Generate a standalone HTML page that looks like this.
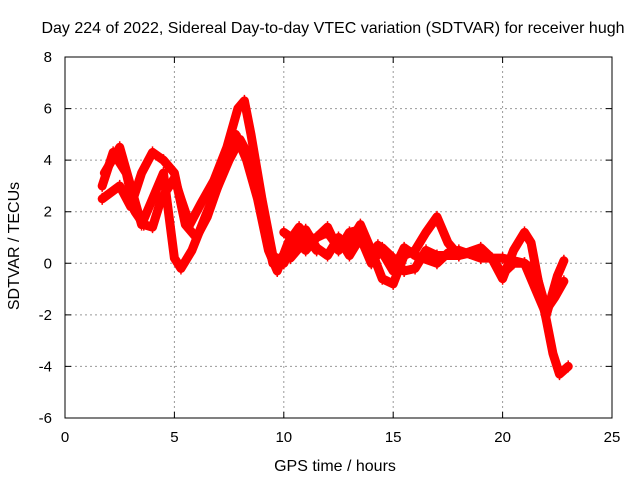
<!DOCTYPE html>
<html><head><meta charset="utf-8"><style>
body{margin:0;background:#fff}
svg{display:block;font-family:"Liberation Sans",sans-serif}
</style></head><body>
<svg id="chart" width="640" height="480" viewBox="0 0 640 480">
<rect width="640" height="480" fill="#fff"/>
<text x="333" y="33" font-size="16" text-anchor="middle">Day 224 of 2022, Sidereal Day-to-day VTEC variation (SDTVAR) for receiver hugh</text>
<g id="grid"></g>
<g id="series"></g>
<rect x="65" y="57" width="547" height="361" fill="none" stroke="#000"/>
<g id="axes"></g>
<text x="335" y="471" font-size="16" text-anchor="middle">GPS time / hours</text>
<text x="19" y="246" font-size="16" text-anchor="middle" transform="rotate(-90 19 246)">SDTVAR / TECUs</text>
</svg>
<script>
const xTicks=[0,5,10,15,20,25];
const yTicks=[-6,-4,-2,0,2,4,6,8];
const traceAHours=[1.7,2.2,2.8,3.2,3.6,4.0,4.4,5.0,5.3,5.7,6.2,6.8,7.4,7.9,8.2,8.5,9.0,9.5,10.0,10.5,11.0];
const traceAValues=[3,4.3,3.5,2,1.5,1.4,2.5,3.3,2.5,1.5,2.3,3.2,4.5,6,6.3,5,2.5,0.3,0,1,1.2];
const traceBHours=[1.7,2.5,3.0,3.5,4.0,4.5,5.0,5.5,6.0,6.5,7.2,7.8,8.3,8.8,9.3,9.7,10.2,10.7,11.5];
const traceBValues=[2.5,3,2.2,3.5,4.3,4,3.5,1.5,1,1.8,3.5,5,4,2.5,0.5,-0.3,0.8,1.4,0.5];
const traceCHours=[1.8,2.5,3.0,3.5,4.0,4.5,5.0,5.3,5.8,6.5,7.5,8.0,8.5,9.0,9.5,10.0];
const traceCValues=[3.5,4.5,3,1.5,2.5,3.5,0.2,-0.2,0.5,2,4,4.8,4,2,0,0.3];
const traceDHours=[10,10.5,11,11.5,12,12.5,13,13.5,14,14.5,15,15.5,16,16.5,17,17.5,18,18.5,19,19.5,20,20.5,21,21.3,21.7,22.0,22.3,22.6,23];
const traceDValues=[1.2,0.9,0.5,1.0,1.2,0.6,0.8,1.5,0.5,-0.6,-0.8,0.3,0.5,1.2,1.8,0.8,0.3,0.4,0.5,0.2,-0.6,0.5,1.2,0.8,-1,-2.2,-3.5,-4.3,-4];
const traceEHours=[10,10.5,11,11.5,12,12.5,13,13.5,14,14.5,15,15.5,16,16.5,17,18,19,19.5,20,20.5,21,21.5,22.0,22.4,22.8];
const traceEValues=[0,0.8,1.3,0.6,0.3,1,0.3,1,0,0.6,0.2,-0.3,-0.2,0.5,0.3,0.3,0.6,0.2,-0.4,0,0,-0.3,-1.8,-1.3,-0.7];
const traceFHours=[10.3,11,11.5,12,12.5,13,13.5,14,14.3,15,15.5,16,17,17.5,18,19,20,21,21.5,22,22.5,22.8];
const traceFValues=[0.2,0.9,1,1.4,0.5,1.2,1.3,0.3,0.7,-0.3,0.6,0.3,0,0.4,0.5,0.2,0.2,0,-1,-2,-0.5,0.1];
const traces=[[traceAHours,traceAValues],[traceBHours,traceBValues],[traceCHours,traceCValues],[traceDHours,traceDValues],[traceEHours,traceEValues],[traceFHours,traceFValues]];

const X0=65,X1=612,Y0=418,Y1=57;
const xs=h=>X0+(h-0)/(25-0)*(X1-X0);
const ys=v=>Y0-(v+6)/(8+6)*(Y0-Y1);
const NS='http://www.w3.org/2000/svg';
const grid=document.getElementById('grid'),axes=document.getElementById('axes'),ser=document.getElementById('series');
function mk(tag,attrs,parent){const e=document.createElementNS(NS,tag);for(const k in attrs)e.setAttribute(k,attrs[k]);parent.appendChild(e);return e;}
xTicks.forEach(t=>{const x=xs(t);
  if(t>0&&t<25){const g=mk('line',{x1:x,x2:x,y1:Y0,y2:Y1,stroke:'#999','stroke-dasharray':'2,3'},grid);
  
  }
  const tk=mk('path',{d:`M${x},${Y0}v-6M${x},${Y1}v6`,stroke:'#000'},axes);
  
  
  const l=mk('text',{x:x,y:Y0+24,'font-size':15,'text-anchor':'middle'},axes);l.textContent=t;
  
  
});
yTicks.forEach(t=>{const y=ys(t);
  if(t>-6&&t<8){const g=mk('line',{x1:X0,x2:X1,y1:y,y2:y,stroke:'#999','stroke-dasharray':'2,3'},grid);
  
  }
  const tk=mk('path',{d:`M${X0},${y}h6M${X1},${y}h-6`,stroke:'#000'},axes);
  
  
  const l=mk('text',{x:X0-13,y:y+5,'font-size':15,'text-anchor':'end'},axes);l.textContent=t;
  
  
});
traces.forEach(([hs,vs],i)=>{
  const pts=hs.map((h,j)=>xs(h)+','+ys(vs[j])).join(' ');
  const pl=mk('polyline',{points:pts,fill:'none',stroke:'#f00','stroke-width':9,'stroke-linejoin':'round','stroke-linecap':'round'},ser);
  
  
  hs.forEach((h,j)=>{const x=xs(h),y=ys(vs[j]);
    const p=mk('path',{d:`M${x-4},${y}h8M${x},${y-6}v12`,stroke:'#f00','stroke-width':1.5},ser);
    
    
  });
});
</script>
</body></html>
